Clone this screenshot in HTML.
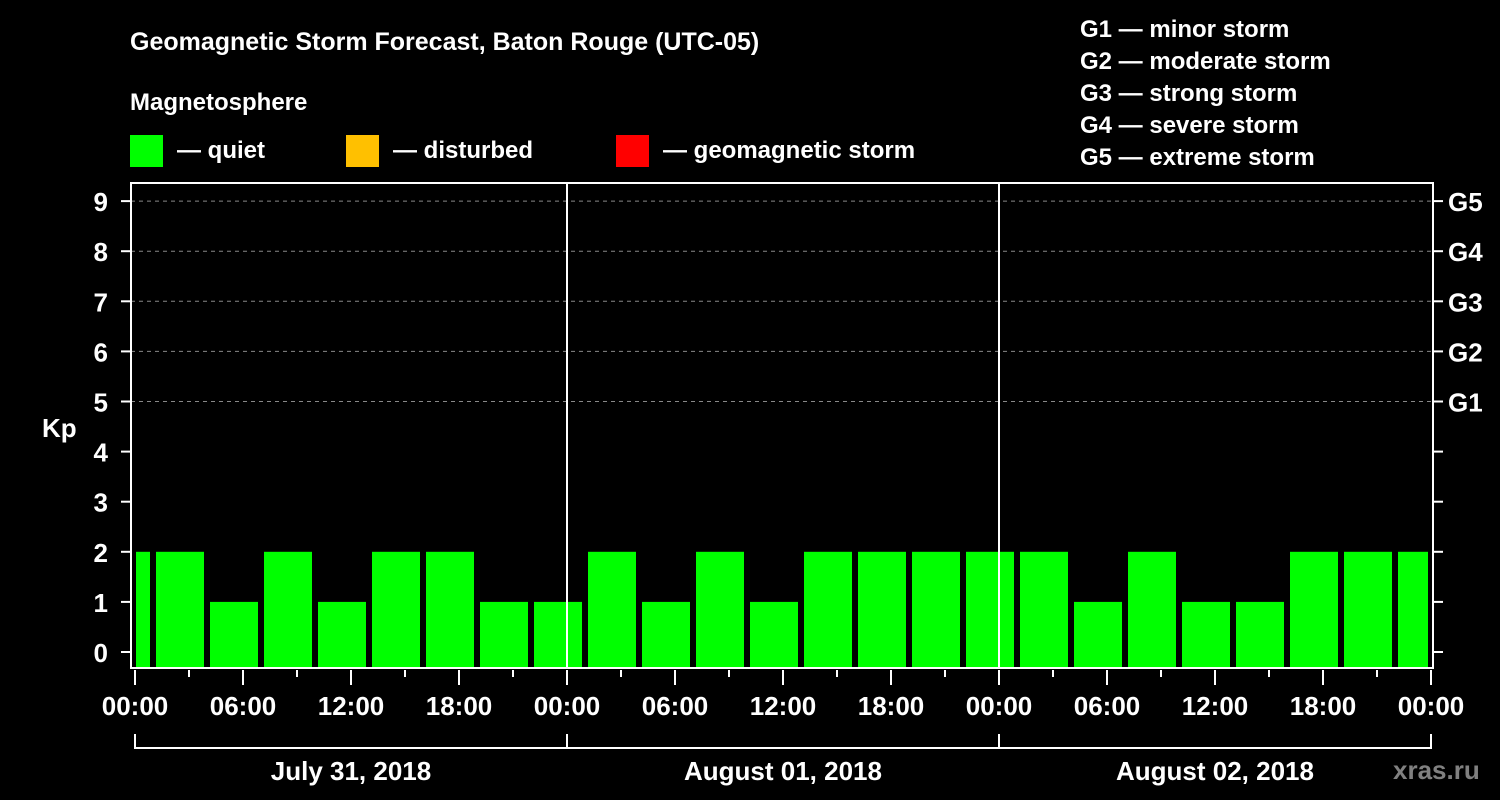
<!DOCTYPE html>
<html><head><meta charset="utf-8"><style>
html,body{margin:0;padding:0;background:#000;}
svg{display:block;font-family:"Liberation Sans",sans-serif;font-weight:bold;}
</style></head><body>
<svg id="chart" width="1500" height="800" viewBox="0 0 1500 800">
<rect width="1500" height="800" fill="#000"/>
<text x="130" y="50" fill="#fff" font-size="25">Geomagnetic Storm Forecast, Baton Rouge (UTC-05)</text>
<text x="130" y="110" fill="#fff" font-size="24">Magnetosphere</text>
<g><rect x="130" y="135" width="33" height="32" fill="#00ff00"/><text x="177" y="158" fill="#fff" font-size="24">— quiet</text></g>
<g><rect x="346" y="135" width="33" height="32" fill="#ffc000"/><text x="393" y="158" fill="#fff" font-size="24">— disturbed</text></g>
<g><rect x="616" y="135" width="33" height="32" fill="#ff0000"/><text x="663" y="158" fill="#fff" font-size="24">— geomagnetic storm</text></g>
<g fill="#fff" font-size="24">
<text x="1080" y="37">G1 — minor storm</text>
<text x="1080" y="69">G2 — moderate storm</text>
<text x="1080" y="101">G3 — strong storm</text>
<text x="1080" y="133">G4 — severe storm</text>
<text x="1080" y="165">G5 — extreme storm</text>
</g>
<text x="42" y="437" fill="#fff" font-size="26">Kp</text>
<g id="grid"></g><g id="bars"></g><g id="axes"></g>
<text x="1393" y="779" fill="#808080" font-size="26">xras.ru</text>
</svg>
<script>
const kpValues=[2,2,1,2,1,2,2,1,1,2,1,2,1,2,2,2,2,2,1,2,1,1,2,2,2];
const yTicks=[0,1,2,3,4,5,6,7,8,9];
const gLabels=["G1","G2","G3","G4","G5"];
const gLevels=[5,6,7,8,9];
const xLabels=["00:00","06:00","12:00","18:00"];
const dayLabels=["July 31, 2018","August 01, 2018","August 02, 2018"];
const NS="http://www.w3.org/2000/svg";
const L=131,R=1433,T=183,B=668,X0=135,PXH=18;
const x=h=>X0+h*PXH;
const y=v=>652-v*50.1;
function mk(t,a,p){const e=document.createElementNS(NS,t);for(const k in a)e.setAttribute(k,a[k]);p.appendChild(e);return e;}
const grid=document.getElementById('grid'),bars=document.getElementById('bars'),axes=document.getElementById('axes');
gLevels.forEach((v,i)=>{
 const g=mk('line',{x1:L,x2:R,y1:y(v),y2:y(v),stroke:'#888','stroke-dasharray':'4,4','stroke-width':1},grid);
 
 
 const t=mk('text',{x:1448,y:y(v)+10,fill:'#fff','font-size':26},axes);t.textContent=gLabels[i];
 
 
});
kpValues.forEach((v,i)=>{
 let s=-2+3*i,e=s+3;s=Math.max(0,s);e=Math.min(72,e);
 const x1=x(s)+(i===0?1:3),x2=x(e)-3;
 const r=mk('rect',{x:x1,y:y(v),width:x2-x1,height:B-y(v),fill:'#00ff00'},bars);
 
 
});
mk('rect',{x:L,y:T,width:R-L,height:B-T,fill:'none',stroke:'#fff','stroke-width':2},axes);
[1,2].forEach(d=>{mk('line',{x1:x(24*d),x2:x(24*d),y1:T,y2:B,stroke:'#fff','stroke-width':2},axes);});
yTicks.forEach(v=>{
 mk('line',{x1:121,x2:L,y1:y(v),y2:y(v),stroke:'#fff','stroke-width':2},axes);
 mk('line',{x1:R,x2:R+10,y1:y(v),y2:y(v),stroke:'#fff','stroke-width':2},axes);
 const t=mk('text',{x:108,y:y(v)+10,fill:'#fff','font-size':26,'text-anchor':'end'},axes);t.textContent=v;
 
 
});
for(let h=0;h<=72;h+=3){
 const major=h%6===0;
 mk('line',{x1:x(h),x2:x(h),y1:B+2,y2:major?B+17:B+9,stroke:'#fff','stroke-width':2},axes);
 if(major){const t=mk('text',{x:x(h),y:715,fill:'#fff','font-size':26,'text-anchor':'middle'},axes);t.textContent=xLabels[(h/6)%4];
 
 }
}
mk('line',{x1:x(0),x2:x(72),y1:748,y2:748,stroke:'#fff','stroke-width':2},axes);
[0,24,48,72].forEach(h=>mk('line',{x1:x(h),x2:x(h),y1:734,y2:749,stroke:'#fff','stroke-width':2},axes));
dayLabels.forEach((d,i)=>{const t=mk('text',{x:x(24*i+12),y:780,fill:'#fff','font-size':26,'text-anchor':'middle'},axes);t.textContent=d;
 
 });
</script>
</body></html>
